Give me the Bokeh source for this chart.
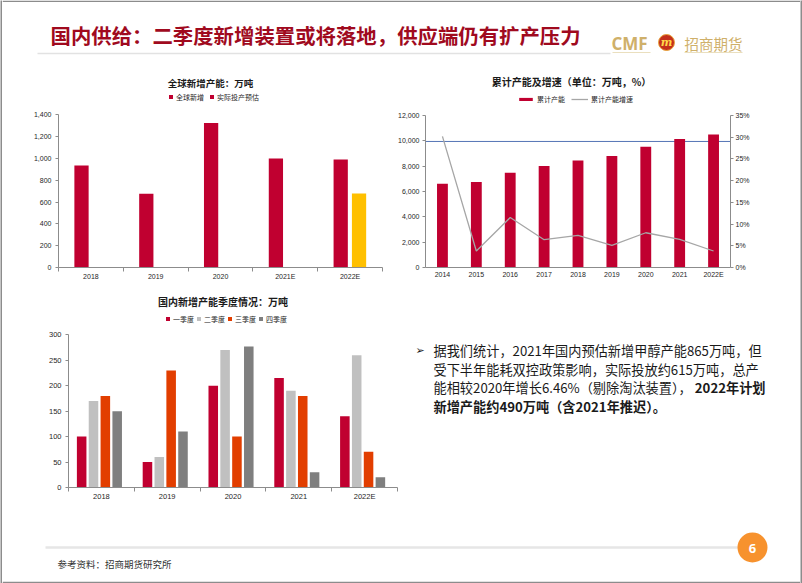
import numpy as np
from bokeh.plotting import figure
from bokeh.layouts import row, column
from bokeh.models import (Range1d, LinearAxis, FixedTicker, NumeralTickFormatter,
                          Legend, LegendItem, Label, Span, ColumnDataSource)
from bokeh.transform import dodge
from bokeh.core.properties import value
from bokeh.embed import file_html
from bokeh.resources import INLINE

NAN = float("nan")

# ---------------- data ----------------
global_years = ["2018", "2019", "2020", "2021E", "2022E"]
global_new = [936, 676, 1325, 999, 990]
actual_estimate = [NAN, NAN, NAN, NAN, 679]
global_ticks = [0, 200, 400, 600, 800, 1000, 1200, 1400]

cum_years = ["2014", "2015", "2016", "2017", "2018", "2019", "2020", "2021", "2022E"]
cum_capacity = [6617, 6749, 7484, 8010, 8456, 8797, 9532, 10137, 10504]
cum_growth = [0.302, 0.038, 0.115, 0.064, 0.074, 0.051, 0.080, 0.065, 0.038]
cum_ref_level = 9950
cap_ticks = [0, 2000, 4000, 6000, 8000, 10000, 12000]
growth_ticks = [0, 0.05, 0.10, 0.15, 0.20, 0.25, 0.30, 0.35]

q_years = ["2018", "2019", "2020", "2021", "2022E"]
q1 = [100, 50, 200, 215, 140]
q2 = [170, 60, 270, 190, 260]
q3 = [180, 230, 100, 180, 70]
q4 = [150, 110, 277, 30, 20]
q_names = ["一季度", "二季度", "三季度", "四季度"]
q_ticks = [0, 50, 100, 150, 200, 250, 300]

slide_title = "国内供给：二季度新增装置或将落地，供应端仍有扩产压力"
chart1_title = "全球新增产能：万吨"
chart1_series = ["全球新增", "实际投产预估"]
chart2_title = "累计产能及增速（单位：万吨，%）"
chart2_series = ["累计产能", "累计产能增速"]
chart3_title = "国内新增产能季度情况：万吨"
body_line1 = "据我们统计，2021年国内预估新增甲醇产能865万吨，但"
body_line2 = "受下半年能耗双控政策影响，实际投放约615万吨，总产"
body_line3a = "能相较2020年增长6.46%（剔除淘汰装置），"
body_line3b = "2022年计划"
body_line4 = "新增产能约490万吨（含2021年推迟）。"
source_note = "参考资料：招商期货研究所"
page_number = "6"
logo_en = "CMF"
logo_cn = "招商期货"

# ---------------- styles ----------------
RED = "#C00030"
YELLOW = "#FFC000"
LGRAY = "#C0C0C0"
ORANGE = "#E23E00"
DGRAY = "#7F7F7F"
AXIS = "#8C8C8C"
LINEGRAY = "#A6A6A6"
BLUE = "#5575B5"
TEXT = "#262626"
BORDER = "#8C8C8C"
TITLE_RED = "#A00A1E"
GOLD = "#CFB06A"
CJK = "Noto Sans CJK SC"
LATIN = "Liberation Sans"


def no_grid(p):
    p.xgrid.grid_line_color = None
    p.ygrid.grid_line_color = None
    p.xgrid.visible = False
    p.ygrid.visible = False


def chart_fig(w, h, xr, yr, ml, mr, mt, mb):
    p = figure(width=w, height=h, x_range=xr, y_range=yr, title=None,
               toolbar_location=None, output_backend="svg",
               x_axis_location=None, y_axis_location=None,
               min_border_left=ml, min_border_right=mr,
               min_border_top=mt, min_border_bottom=mb,
               outline_line_color=None, background_fill_color="white",
               border_fill_color="white")
    no_grid(p)
    return p


def deco_fig(w, h, x0, y0, fill="white"):
    p = figure(width=w, height=h, x_range=Range1d(x0, x0 + w), y_range=Range1d(y0 + h, y0),
               title=None, toolbar_location=None, output_backend="svg",
               x_axis_location=None, y_axis_location=None, min_border=0,
               outline_line_color=None, background_fill_color=fill, border_fill_color=fill)
    no_grid(p)
    return p


def category_axis(labels, standoff, size, tick_out=4):
    n = len(labels)
    return LinearAxis(
        ticker=FixedTicker(ticks=list(range(n)), minor_ticks=[i - 0.5 for i in range(n + 1)]),
        major_label_overrides={i: s for i, s in enumerate(labels)},
        axis_line_color=AXIS, axis_line_width=1,
        major_tick_line_color=None, major_tick_out=0, major_tick_in=0,
        minor_tick_line_color=AXIS, minor_tick_out=tick_out, minor_tick_in=0,
        major_label_standoff=standoff, major_label_text_font=LATIN,
        major_label_text_font_size=size, major_label_text_color=TEXT)


def value_axis(ticks, bounds, fmt, standoff, size, range_name="default"):
    return LinearAxis(
        y_range_name=range_name, bounds=bounds,
        ticker=FixedTicker(ticks=ticks), formatter=NumeralTickFormatter(format=fmt),
        axis_line_color=AXIS, axis_line_width=1,
        major_tick_line_color=AXIS, major_tick_out=3, major_tick_in=0,
        minor_tick_line_color=None,
        major_label_standoff=standoff, major_label_text_font=LATIN,
        major_label_text_font_size=size, major_label_text_color=TEXT)


def make_legend(items, loc, gw, gh, spacing):
    return Legend(items=items, location=loc, orientation="horizontal",
                  glyph_width=gw, glyph_height=gh, label_height=9, label_width=5,
                  label_standoff=3, spacing=spacing, padding=0, margin=0,
                  border_line_color=None, background_fill_alpha=0,
                  label_text_font=CJK, label_text_font_size="7px",
                  label_text_color=TEXT, label_text_baseline="middle")


def chart_title(text, x, y, size):
    return Label(x=x, y=y, text=text, text_font=CJK, text_font_size=size,
                 text_font_style="bold", text_color="#1A1A1A",
                 text_align="center", text_baseline="middle")


# ---------------- chart 1 : global new capacity ----------------
# frame: page x 58..382, page y 66..270 ; 1400 sits at page y 115
c1_px = (270 - 115) / 1400.0
c1_top = (270 - 66) / c1_px
n1 = len(global_years)
p1 = chart_fig(384, 230, Range1d(-0.5, n1 - 0.5), Range1d(0, c1_top), 56, 4, 6, 20)
src1 = ColumnDataSource(dict(x=list(range(n1)), new=np.array(global_new, dtype=float),
                             est=np.array(actual_estimate, dtype=float)))
r_new = p1.vbar(x=dodge("x", -0.145), top="new", width=0.22, source=src1,
                fill_color=RED, line_color=None)
r_est = p1.vbar(x=dodge("x", 0.138), top="est", width=0.22, source=src1,
                fill_color=YELLOW, line_color=None)
# legend key of the estimate series is drawn red in the reference
r_est_key = p1.vbar(x=dodge("x", 0.138), top="est", width=0.0, source=src1,
                    fill_color=RED, line_color=None)
p1.add_layout(category_axis(global_years, 1, "7px"), "below")
p1.add_layout(value_axis(global_ticks, (0, global_ticks[-1]), "0,0", 4, "7px"), "left")
p1.add_layout(make_legend([LegendItem(label=chart1_series[0], renderers=[r_new]),
                           LegendItem(label=chart1_series[1], renderers=[r_est_key])],
                          (110, 165.5), 5, 5, 5))
p1.add_layout(chart_title(chart1_title, (210 - 58) / 324 * n1 - 0.5, (270 - 83) / c1_px, "9.5px"))

# ---------------- chart 2 : cumulative capacity & growth ----------------
# frame: page x 425..730, page y 66..267 ; 12000 / 35% at page y 115
c2_px = (267 - 115) / 12000.0
c2_top = (267 - 66) / c2_px
n2 = len(cum_years)
p2 = chart_fig(414, 230, Range1d(-0.5, n2 - 0.5), Range1d(0, c2_top), 39, 70, 6, 23)
p2.extra_y_ranges = {"pct": Range1d(0, growth_ticks[-1] * c2_top / cap_ticks[-1])}
src2 = ColumnDataSource(dict(x=list(range(n2)), cap=cum_capacity, growth=cum_growth))
p2.add_layout(Span(location=cum_ref_level, dimension="width", line_color=BLUE,
                   line_width=1, level="underlay"))
r_cap = p2.vbar(x="x", top="cap", width=0.32, source=src2, fill_color=RED, line_color=None)
r_gr = p2.line(x="x", y="growth", source=src2, y_range_name="pct",
               line_color=LINEGRAY, line_width=1.3)
p2.add_layout(category_axis(cum_years, 3, "7px", tick_out=0), "below")
p2.add_layout(value_axis(cap_ticks, (0, cap_ticks[-1]), "0,0", 3, "7px"), "left")
p2.add_layout(value_axis(growth_ticks, (0, growth_ticks[-1]), "0%", 2, "7px", "pct"), "right")
p2.add_layout(make_legend([LegendItem(label=chart2_series[0], renderers=[r_cap]),
                           LegendItem(label=chart2_series[1], renderers=[r_gr])],
                          (92, 163.5), 17, 4, 6))
p2.add_layout(chart_title(chart2_title, (571 - 425) / 305 * n2 - 0.5, (267 - 81) / c2_px, "10px"))

# ---------------- chart 3 : domestic quarterly ----------------
# frame: page x 68..397, page y 292..487 ; 300 at page y 334.3
c3_px = (487 - 334.3) / 300.0
c3_top = (487 - 292) / c3_px
n3 = len(q_years)
p3 = chart_fig(403, 225, Range1d(-0.5, n3 - 0.5), Range1d(0, c3_top), 66, 8, 2, 28)
src3 = ColumnDataSource(dict(x=list(range(n3)), q1=q1, q2=q2, q3=q3, q4=q4))
q_cols = ["q1", "q2", "q3", "q4"]
q_colors = [RED, LGRAY, ORANGE, DGRAY]
q_offsets = [-0.30, -0.12, 0.06, 0.24]
q_renderers = []
for col, colr, off in zip(q_cols, q_colors, q_offsets):
    q_renderers.append(p3.vbar(x=dodge("x", off), top=col, width=0.145, source=src3,
                               fill_color=colr, line_color=None))
p3.add_layout(category_axis(q_years, 0, "7.5px"), "below")
p3.add_layout(value_axis(q_ticks, (0, q_ticks[-1]), "0", 4, "7.5px"), "left")
p3.add_layout(make_legend([LegendItem(label=nm, renderers=[r]) for nm, r in zip(q_names, q_renderers)],
                          (97, 163.5), 5, 5, 2))
p3.add_layout(chart_title(chart3_title, (222.5 - 68) / 329 * n3 - 0.5, (487 - 301) / c3_px, "10px"))

# ---------------- header ----------------
hd = deco_fig(798, 60, 2, 0)
hd.segment(x0=[2], y0=[0.75], x1=[800], y1=[0.75], line_color=BORDER, line_width=1.5)
hd.text(x=[50], y=[34], text=[slide_title], text_font=value(CJK), text_font_size=value("20.4px"),
        text_font_style="bold", text_color=TITLE_RED, text_baseline="middle")
hd.segment(x0=[37], y0=[53], x1=[610], y1=[53], line_color="#E2E2E2", line_width=1.5)
hd.text(x=[611], y=[43], text=[logo_en], text_font=value("Open Sans"), text_font_size=value("17px"),
        text_font_style="bold", text_color=GOLD, text_baseline="middle")
hd.scatter(x=[666], y=[42], size=16, marker="circle", fill_color="#C4301C",
           line_color="#E8A33A", line_width=1)
hd.text(x=[666], y=[42], text=["m"], text_font=value("DejaVu Serif"), text_font_size=value("11px"),
        text_font_style="bold italic", text_color="#FFD84A", text_align="center",
        text_baseline="middle")
hd.text(x=[684], y=[43], text=[logo_cn], text_font=value(CJK), text_font_size=value("14.5px"),
        text_color=GOLD, text_baseline="middle")
hd.segment(x0=[612, 684], y0=[52, 52], x1=[650, 742], y1=[52, 52], line_color="#EADFBE", line_width=1.2)

# ---------------- text block ----------------
tx = deco_fig(395, 225, 405, 290)
line_y = [357, 378.5, 400, 421.5]
tx.text(x=[415], y=[line_y[0]], text=["➢"], text_font=value("DejaVu Sans"), text_font_size=value("11px"),
        text_color="#1A1A1A", text_baseline="middle")
tx.text(x=[433, 433, 433], y=line_y[:3], text=[body_line1, body_line2, body_line3a],
        text_font=value(CJK), text_font_size=value("13.2px"), text_color="#1A1A1A",
        text_baseline="middle")
tx.text(x=[765], y=[line_y[2]], text=[body_line3b], text_font=value(CJK), text_font_size=value("13.2px"),
        text_font_style="bold", text_color="#1A1A1A", text_align="right", text_baseline="middle")
tx.text(x=[433], y=[line_y[3]], text=[body_line4], text_font=value(CJK), text_font_size=value("13.2px"),
        text_font_style="bold", text_color="#1A1A1A", text_baseline="middle")

# ---------------- footer ----------------
ft = deco_fig(798, 68, 2, 515)
ft.segment(x0=[45], y0=[547], x1=[738], y1=[547], line_color="#E6E6E6", line_width=2.5)
ft.scatter(x=[752], y=[547], size=30, marker="circle", fill_color="#F7922E", line_color=None)
ft.text(x=[752], y=[547.5], text=[page_number], text_font=value("Open Sans"),
        text_font_size=value("13px"), text_font_style="bold", text_color="white",
        text_align="center", text_baseline="middle")
ft.text(x=[57], y=[563], text=[source_note], text_font=value(CJK), text_font_size=value("9.5px"),
        text_color="#333333", text_baseline="middle")
ft.segment(x0=[2], y0=[582], x1=[800], y1=[582], line_color=BORDER, line_width=1.5)

# ---------------- edges & layout ----------------
edge_l = deco_fig(2, 583, 0, 0, fill=BORDER)
edge_r = deco_fig(2, 583, 800, 0, fill=BORDER)

body = column(hd, row(p1, p2, spacing=0), row(p3, tx, spacing=0), ft, spacing=0)
page = row(edge_l, body, edge_r, spacing=0)

open("out.html", "w").write(file_html(page, INLINE))
